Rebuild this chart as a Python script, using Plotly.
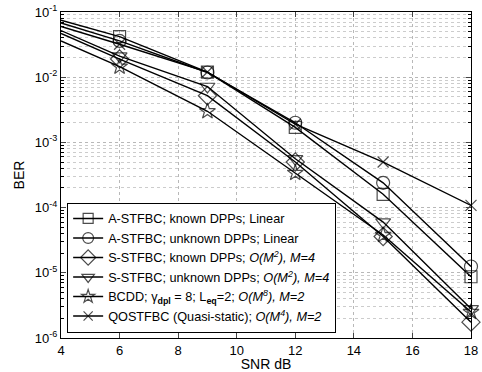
import plotly.graph_objects as go

snr = [4, 6, 9, 12, 15, 18]

ber_astfbc_known = [0.075, 0.042, 0.0120, 0.0017, 1.6e-4, 8.7e-6]
ber_astfbc_unknown = [0.068, 0.036, 0.0118, 0.0020, 2.4e-4, 1.25e-5]
ber_sstfbc_known = [0.047, 0.019, 0.0052, 5.0e-4, 3.6e-5, 1.75e-6]
ber_sstfbc_unknown = [0.052, 0.021, 0.0072, 5.6e-4, 6.0e-5, 2.8e-6]
ber_bcdd = [0.036, 0.0145, 0.0030, 3.4e-4, 3.8e-5, 2.5e-6]
ber_qostfbc = [0.060, 0.032, 0.0120, 0.0019, 5.0e-4, 1.08e-4]

names = [
    "A-STFBC; known DPPs; Linear",
    "A-STFBC; unknown DPPs; Linear",
    "S-STFBC; known DPPs; <i>O(M<sup>2</sup>), M=4</i>",
    "S-STFBC; unknown DPPs; <i>O(M<sup>2</sup>), M=4</i>",
    "BCDD; γ<sub><b>dpl</b></sub> = 8; L<sub><b>eq</b></sub>=2; <i>O(M<sup>8</sup>), M=2</i>",
    "QOSTFBC (Quasi-static); <i>O(M<sup>4</sup>), M=2</i>",
]
series = [ber_astfbc_known, ber_astfbc_unknown, ber_sstfbc_known,
          ber_sstfbc_unknown, ber_bcdd, ber_qostfbc]
symbols = ["square-open", "circle-open", "diamond-open",
           "triangle-down-open", "star-open", "x-thin-open"]
sizes = [12, 13, 14, 13, 12, 11]

y_tickvals = [1e-6, 1e-5, 1e-4, 1e-3, 1e-2, 1e-1]
y_ticktext = ["10<sup>-6</sup>", "10<sup>-5</sup>", "10<sup>-4</sup>",
              "10<sup>-3</sup>", "10<sup>-2</sup>", "10<sup>-1</sup>"]
x_tickvals = [4, 6, 8, 10, 12, 14, 16, 18]

fig = go.Figure()
for nm, ys, sym, sz in zip(names, series, symbols, sizes):
    fig.add_trace(go.Scatter(
        x=snr, y=ys, name=nm, mode="lines+markers",
        line=dict(color="black", width=1.4),
        marker=dict(symbol=sym, size=[0] + [sz] * (len(snr) - 1),
                    color="black", line=dict(color="black", width=1.2)),
        cliponaxis=False,
    ))

font = "Liberation Sans, Arial, sans-serif"
fig.update_layout(
    width=482, height=372,
    margin=dict(l=61, r=11, t=12, b=34),
    paper_bgcolor="white", plot_bgcolor="white",
    font=dict(family=font, size=13, color="black"),
    legend=dict(x=0.015, y=0.415, xanchor="left", yanchor="top",
                bgcolor="white", bordercolor="black", borderwidth=1,
                font=dict(family=font, size=12.7, color="black"),
                tracegroupgap=0, itemwidth=30),
    showlegend=True,
)
fig.update_xaxes(
    range=[4, 18], tickvals=x_tickvals, ticks="inside", ticklen=5,
    showline=True, linecolor="black", linewidth=1, mirror="ticks",
    showgrid=True, gridcolor="#b8b8b8", griddash="dot", gridwidth=1,
    zeroline=False, automargin=False,
    title=dict(text="SNR dB", standoff=0, font=dict(size=14)),
    tickfont=dict(size=13),
)
fig.update_yaxes(
    type="log", range=[-6, -1], tickvals=y_tickvals, ticktext=y_ticktext,
    ticks="inside", ticklen=5,
    showline=True, linecolor="black", linewidth=1, mirror="ticks",
    showgrid=True, gridcolor="#b8b8b8", griddash="dot", gridwidth=1,
    minor=dict(dtick="D1", ticks="inside", ticklen=3, tickcolor="black",
               showgrid=True, gridcolor="#cccccc", griddash="dot"),
    zeroline=False, automargin=False,
    title=dict(text="BER", standoff=6, font=dict(size=14)),
    tickfont=dict(size=13),
)
fig.write_html("out.html", config={"displayModeBar": False},
               post_script="document.body.style.margin='0';")
